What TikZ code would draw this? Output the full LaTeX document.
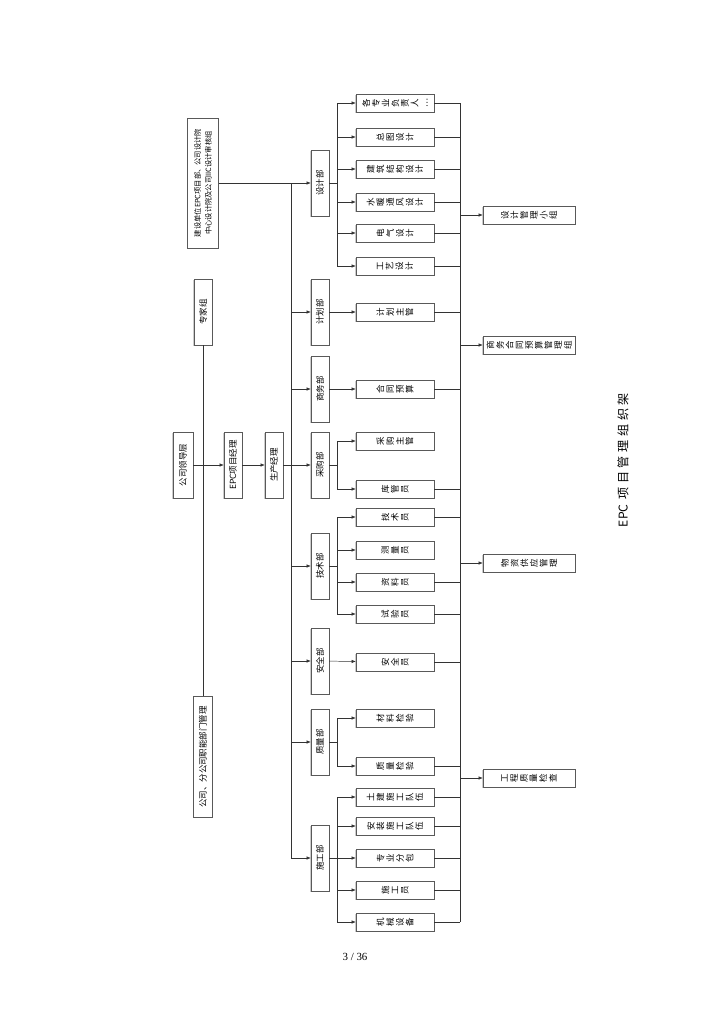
\documentclass[tikz,border=0pt]{standalone}
\usepackage{fontspec}
\setmainfont{Liberation Serif}
\newfontfamily\cjk{Noto Sans CJK SC}
\usetikzlibrary{arrows.meta, shadows}

\begin{document}
\begin{tikzpicture}[x=0.029cm, y=-0.029cm,
  box/.style={rectangle, draw=black!65, fill=white, rotate=90, inner sep=1pt,
              drop shadow={shadow xshift=-0.7pt, shadow yshift=-0.7pt, fill=black!40},
              font=\cjk\fontsize{7}{8}\selectfont},
  dept/.style={box, minimum width=1.914cm, minimum height=0.522cm},
  item/.style={box, align=center, minimum width=0.522cm, minimum height=2.262cm},
  grp/.style={box, align=center, minimum width=0.522cm, minimum height=2.668cm},
  arr/.style={-{Latex[length=1.2mm, width=1mm]}, black!80},
  ln/.style={black!80}
]
\useasboundingbox (0,0) rectangle (724,1024);

% left column
\node[box, align=center, minimum width=3.77cm, minimum height=0.9cm,
      font=\cjk\fontsize{6}{9}\selectfont] (top) at (203,183)
  {建设单位EPC项目部、公司设计院\\中心设计院及公司IIC设计审核组};
\node[dept] (exp) at (203,312) {专家组};
\node[dept, minimum height=0.58cm] (lead) at (183,465) {公司领导层};
\node[dept] (pm) at (233,465) {EPC项目经理};
\node[dept] (prod) at (274,465) {生产经理};
\node[dept, minimum width=3.5cm, minimum height=0.55cm] (func) at (203,757) {公司、分公司职能部门管理};

% departments
\node[dept] (dsn) at (320,183) {设计部};
\node[dept] (plan) at (320,312) {计划部};
\node[dept] (biz) at (320,389) {商务部};
\node[dept] (buy) at (320,465) {采购部};
\node[dept] (tech) at (320,566) {技术部};
\node[dept] (safe) at (320,661) {安全部};
\node[dept] (qual) at (320,742) {质量部};
\node[dept] (cons) at (320,858) {施工部};

% posts
\node[item] (d1) at (395,103) {各\\专\\业\\负\\责\\人\\…};
\node[item] (d2) at (395,137) {总\\图\\设\\计};
\node[item] (d3) at (395,169) {建\\筑\\结\\构\\设\\计};
\node[item] (d4) at (395,202) {水\\暖\\通\\风\\设\\计};
\node[item] (d5) at (395,233) {电\\气\\设\\计};
\node[item] (d6) at (395,266) {工\\艺\\设\\计};
\node[item] (p1) at (395,312) {计\\划\\主\\管};
\node[item] (b1) at (395,389) {合\\同\\预\\算};
\node[item] (u1) at (395,441) {采\\购\\主\\管};
\node[item] (u2) at (395,489) {库\\管\\员};
\node[item] (t1) at (395,517) {技\\术\\员};
\node[item] (t2) at (395,550) {测\\量\\员};
\node[item] (t3) at (395,582) {资\\料\\员};
\node[item] (t4) at (395,614) {试\\验\\员};
\node[item] (s1) at (395,662) {安\\全\\员};
\node[item] (q1) at (395,718) {材\\料\\检\\验};
\node[item] (q2) at (395,766) {质\\量\\检\\验};
\node[item] (c1) at (395,797) {土\\建\\施\\工\\队\\伍};
\node[item] (c2) at (395,826) {安\\装\\施\\工\\队\\伍};
\node[item] (c3) at (395,858) {专\\业\\分\\包};
\node[item] (c4) at (395,890) {施\\工\\员};
\node[item] (c5) at (395,922) {机\\械\\设\\备};

% groups
\node[grp] (g1) at (529,215) {设\\计\\管\\理\\小\\组};
\node[grp] (g2) at (529,345) {商\\务\\合\\同\\预\\算\\管\\理\\组};
\node[grp] (g3) at (529,563) {物\\资\\供\\应\\管\\理};
\node[grp] (g4) at (529,778) {工\\程\\质\\量\\检\\查};

\coordinate (busL) at (291,0);
\coordinate (brA) at (337,0);
\coordinate (busR) at (460,0);

% connectors
\draw[ln] (exp) -- (func);
\draw[arr] (top) -- (dsn);
\draw[arr] (lead) -- (pm);
\draw[arr] (pm) -- (prod);
\draw[ln] (prod) -- (busL |- prod);
\draw[ln] (busL |- dsn) -- (busL |- cons);
\foreach \d in {plan,biz,buy,tech,safe,qual,cons}
  \draw[arr] (busL |- \d) -- (\d);

\draw[ln] (dsn) -- (brA |- dsn);
\draw[ln] (brA |- d1) -- (brA |- d6);
\foreach \s in {d1,d2,d3,d4,d5,d6}
  \draw[arr] (brA |- \s) -- (\s);
\draw[arr] (plan) -- (p1);
\draw[arr] (biz) -- (b1);
\draw[arr] (safe) -- (s1);
\draw[ln] (buy) -- (brA |- buy);
\draw[ln] (brA |- u1) -- (brA |- u2);
\draw[ln] (tech) -- (brA |- tech);
\draw[ln] (brA |- t1) -- (brA |- t4);
\draw[ln] (qual) -- (brA |- qual);
\draw[ln] (brA |- q1) -- (brA |- q2);
\draw[ln] (cons) -- (brA |- cons);
\draw[ln] (brA |- c1) -- (brA |- c5);
\foreach \s in {u1,u2,t1,t2,t3,t4,q1,q2,c1,c2,c3,c4,c5}
  \draw[arr] (brA |- \s) -- (\s);

\draw[ln] (busR |- d1) -- (busR |- c5);
\foreach \s in {d1,d2,d3,d4,d5,d6,p1,b1,u2,t1,t3,t4,s1,q2,c1,c2,c3,c4,c5}
  \draw[ln] (\s) -- (busR |- \s);
\foreach \g in {g1,g2,g3,g4}
  \draw[arr] (busR |- \g) -- (\g);

% title and page number
\node[rotate=90, font=\cjk\fontsize{10}{12}\selectfont] (ttl) at (623,460)
  {EPC\hspace{4pt}项\hspace{3pt}目\hspace{3pt}管\hspace{3pt}理\hspace{3pt}组\hspace{3pt}织\hspace{3pt}架};
\node[font=\fontsize{9}{10}\selectfont] (pg) at (355,957) {3 / 36};
\end{tikzpicture}
\end{document}
